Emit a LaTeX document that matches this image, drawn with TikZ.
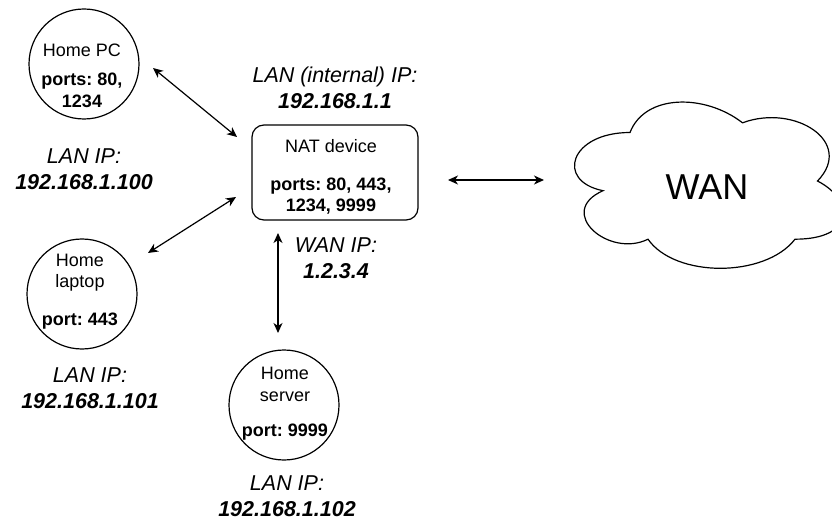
\documentclass[tikz,border=0pt]{standalone}
\usepackage{fontspec}
\setmainfont{Liberation Sans}
\usetikzlibrary{arrows.meta}
\frenchspacing

\begin{document}
\begin{tikzpicture}[x = 1pt, y = -1pt,
                    host/.style = {shape = circle, draw, line width = 1.2pt,
                                   minimum size = 110pt, inner sep = 0pt},
                    hub/.style = {shape = rectangle, draw, line width = 1.2pt,
                                  rounded corners = 12pt,
                                  minimum width = 166pt, minimum height = 95pt},
                    hosttext/.style = {align = center,
                                       font = \fontsize{18}{21.6}\selectfont},
                    iplabel/.style = {align = center,
                                      font = \fontsize{21.5}{26}\selectfont},
                    link/.style = {line width = 1.2pt, <->,
                                   >={Stealth[length = 10pt, width = 9pt, inset = 3pt]}}]
      \useasboundingbox (0, 0) rectangle (832, 521);

      \node [host] (pc) at (84, 64) {};
      \node [hosttext] (pctext) at (82, 75.5)
            {Home PC\\[8pt]\textbf{ports: 80,}\\\textbf{1234}};
      \node [iplabel] (pclan) at (84, 169)
            {\textit{LAN IP:}\\\textbf{\textit{192.168.1.100}}};

      \node [host] (laptop) at (82, 294) {};
      \node [hosttext] (laptoptext) at (80, 291.5)
            {Home\\laptop\\[16pt]\textbf{port: 443}};
      \node [iplabel] (laptoplan) at (90, 388)
            {\textit{LAN IP:}\\\textbf{\textit{192.168.1.101}}};

      \node [host] (server) at (284, 405) {};
      \node [hosttext] (servertext) at (285, 404)
            {Home\\server\\[14pt]\textbf{port: 9999}};
      \node [iplabel] (serverlan) at (287, 496.5)
            {\textit{LAN IP:}\\\textbf{\textit{192.168.1.102}}};

      \node [hub] (nat) at (335, 172.5) {};
      \node [hosttext] (nattext) at (331, 177)
            {NAT device\\[16pt]\textbf{ports: 80, 443,}\\\textbf{1234, 9999}};
      \node [iplabel] (natlan) at (335, 88)
            {\textit{LAN (internal) IP:}\\\textbf{\textit{192.168.1.1}}};
      \node [iplabel] (natwan) at (336, 258)
            {\textit{WAN IP:}\\\textbf{\textit{1.2.3.4}}};

      \draw [line width = 1.2pt] (630, 132.5)
            .. controls (570, 132.5) and (555, 181) .. (603, 190.7)
            .. controls (555, 212) and (609, 258.6) .. (648, 239.2)
            .. controls (675, 278) and (765, 278) .. (795, 239.2)
            .. controls (855, 239.2) and (855, 200.4) .. (817.5, 181)
            .. controls (855, 142.2) and (795, 103.4) .. (742.5, 122.8)
            .. controls (705, 93.7) and (645, 93.7) .. (630, 132.5) -- cycle;
      \node [font = \fontsize{36}{43}\selectfont] (wan) at (707, 187) {WAN};

      \coordinate (pcend)     at (153, 68);
      \coordinate (natpc)     at (237, 137);
      \coordinate (laptopend) at (148, 253);
      \coordinate (natlaptop) at (236, 197);
      \coordinate (natwanend) at (448, 180);
      \coordinate (wanend)    at (544, 180);
      \coordinate (natserver) at (278, 233);
      \coordinate (serverend) at (278, 333);
      \draw [link] (pcend) -- (natpc);
      \draw [link] (laptopend) -- (natlaptop);
      \draw [link] (natwanend) -- (wanend);
      \draw [link] (natserver) -- (serverend);
    \end{tikzpicture}
\end{document}
